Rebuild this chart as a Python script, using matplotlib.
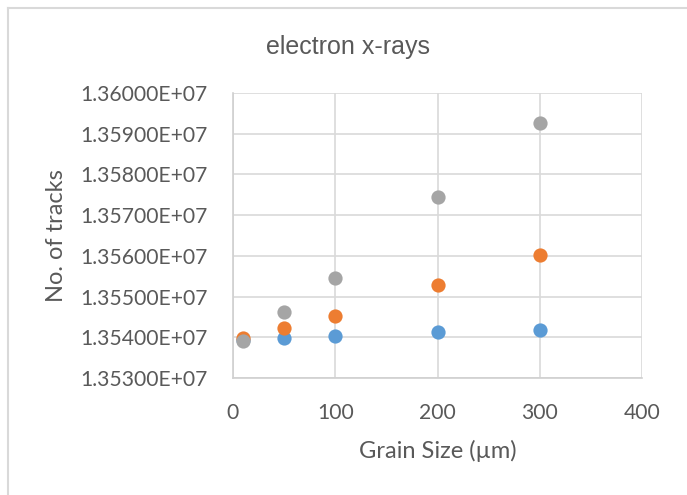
import matplotlib.pyplot as plt
from matplotlib.lines import Line2D
from matplotlib.ticker import FuncFormatter, MultipleLocator

grain_size = [10, 50, 100, 200, 300]
series_blue = [13539400, 13539900, 13540200, 13541200, 13541800]
series_orange = [13539850, 13542400, 13545200, 13552900, 13560250]
series_gray = [13539000, 13546200, 13554500, 13574500, 13592700]

W, H = 687, 495
txt = '#595959'
grid = '#D9D9D9'
font = ['Lato', 'DejaVu Sans']

fig = plt.figure(figsize=(W / 100, H / 100), dpi=100)
ax = fig.add_axes([233 / W, 1 - 378 / H, (642 - 233) / W, (378 - 93) / H])

ax.scatter(grain_size, series_blue, s=105, color='#5B9BD5', zorder=3, linewidths=0)
ax.scatter(grain_size, series_orange, s=105, color='#ED7D31', zorder=4, linewidths=0)
ax.scatter(grain_size, series_gray, s=105, color='#A5A5A5', zorder=5, linewidths=0)

ax.set_xlim(0, 400)
ax.set_ylim(13530000, 13600000)
ax.xaxis.set_major_locator(MultipleLocator(100))
ax.yaxis.set_major_locator(MultipleLocator(10000))
ax.yaxis.set_major_formatter(FuncFormatter(lambda v, p: '{:.5E}'.format(v)))

ax.grid(True, color=grid, lw=1.2, zorder=0)
ax.set_axisbelow(True)
for side in ['top', 'right']:
    ax.spines[side].set_visible(False)
for side in ['left', 'bottom']:
    ax.spines[side].set_color('#D0D0D0')
    ax.spines[side].set_linewidth(1.2)
ax.tick_params(length=0, colors=txt, labelsize=15.2, pad=18)
for lab in ax.get_xticklabels() + ax.get_yticklabels():
    lab.set_family(font)

ax.set_xlabel('Grain Size (µm)', fontsize=17, color=txt, family=font, labelpad=12)
ax.set_ylabel('No. of tracks', fontsize=17, color=txt, family=font, labelpad=10)

fig.text(348 / W, 1 - 47 / H, 'electron x-rays', ha='center', va='center',
         fontsize=18, color=txt, family=['Liberation Sans', 'DejaVu Sans'])

# chart frame
fig.add_artist(Line2D([8 / W, 1.01], [1 - 8 / H, 1 - 8 / H], color=grid, lw=1.5))
fig.add_artist(Line2D([8 / W, 8 / W], [1 - 8 / H, -0.01], color=grid, lw=1.5))

fig.savefig('out.png', dpi=100)
